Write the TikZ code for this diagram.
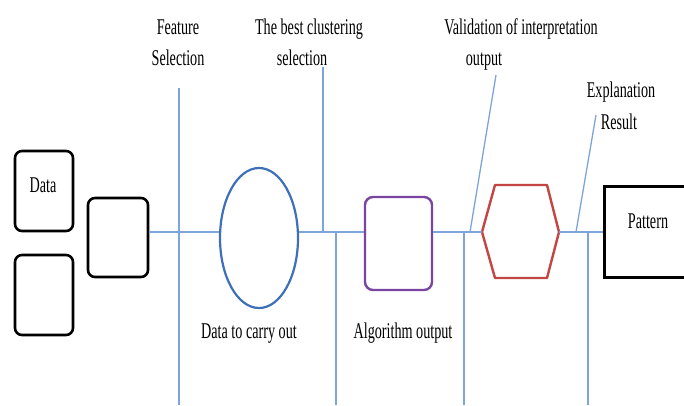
\documentclass[tikz,border=0pt]{standalone}
\usepackage{fontspec}
\setmainfont{Liberation Serif}[FakeStretch=0.63]
\usetikzlibrary{shapes.geometric}
\definecolor{linec}{RGB}{125,165,218}
\definecolor{ellc}{RGB}{62,112,185}
\definecolor{algc}{RGB}{120,70,160}
\definecolor{hexc}{RGB}{196,70,66}
\tikzset{
  blackbox/.style={draw=black, line width=2.6pt, rounded corners=7pt, minimum width=58pt, minimum height=80pt, inner sep=0pt},
  guide/.style={draw=linec, line width=1.3pt},
  lbl/.style={font=\fontsize{22.5}{26}\selectfont, anchor=base, inner sep=0pt},
}
\begin{document}
\begin{tikzpicture}[x=1pt, y=-1pt]
\clip (0,0) rectangle (684,405);
\fill[white] (0,0) rectangle (684,405);
% main line level
\coordinate (main) at (0,232);
% boxes
\node[blackbox] (d1) at (44,191) {};
\node[blackbox] (d2) at (44,295) {};
\node[blackbox, minimum width=60pt, minimum height=79pt] (b3) at (118,237.5) {};
\node[draw=ellc, line width=2.2pt, ellipse, minimum width=78pt, minimum height=140pt, inner sep=0pt] (ell) at (259,238) {};
\node[draw=algc, line width=2.4pt, rounded corners=8pt, minimum width=67pt, minimum height=93pt, inner sep=0pt] (alg) at (398.5,243.5) {};
% hexagon
\coordinate (hW) at (482,232);
\coordinate (hE) at (559,232);
\draw[hexc, line width=2.4pt, line join=round] (hW) -- (495,185) -- (547,185) -- (hE) -- (547,278) -- (495,278) -- cycle;
\node[draw=black, line width=3pt, minimum width=96pt, minimum height=91pt, inner sep=0pt] (pat) at (652,231.5) {};
% main connectors
\draw[guide] (b3.east |- main) -- (ell.west |- main);
\draw[guide] (ell.east |- main) -- (alg.west |- main);
\draw[guide] (alg.east |- main) -- (hW);
\draw[guide] (hE) -- (pat.west |- main);
% guide lines
\coordinate (fsT) at (179,88);  \coordinate (fsB) at (179,405);
\draw[guide] (fsT) -- (fsB);
\coordinate (bcT) at (323,67);
\draw[guide] (bcT) -- (bcT |- main);
\coordinate (v2B) at (336,405);
\draw[guide] (v2B |- main) -- (v2B);
\coordinate (v3B) at (464,405);
\draw[guide] (v3B |- main) -- (v3B);
\coordinate (s1B) at (470,232); \coordinate (s1T) at (496,75);
\draw[guide] (s1B) -- (s1T);
\coordinate (v4B) at (588,405);
\draw[guide] (v4B |- main) -- (v4B);
\coordinate (s2B) at (576,232); \coordinate (s2T) at (596,115);
\draw[guide] (s2B) -- (s2T);
% labels
\node[lbl] (tfs1) at (178,34) {Feature};
\node[lbl] (tfs2) at (178,65) {Selection};
\node[lbl] (tbc1) at (309,34) {The best clustering};
\node[lbl] (tbc2) at (302,65) {selection};
\node[lbl] (tv1) at (521,34) {Validation of interpretation};
\node[lbl] (tv2) at (484,65) {output};
\node[lbl] (te1) at (621,97) {Explanation};
\node[lbl] (te2) at (619,129) {Result};
\node[lbl] (tdata) at (43,192) {Data};
\node[lbl] (tdc) at (249,338) {Data to carry out};
\node[lbl] (tao) at (403,338) {Algorithm output};
\node[lbl] (tpat) at (648,228) {Pattern};
\end{tikzpicture}
\end{document}
